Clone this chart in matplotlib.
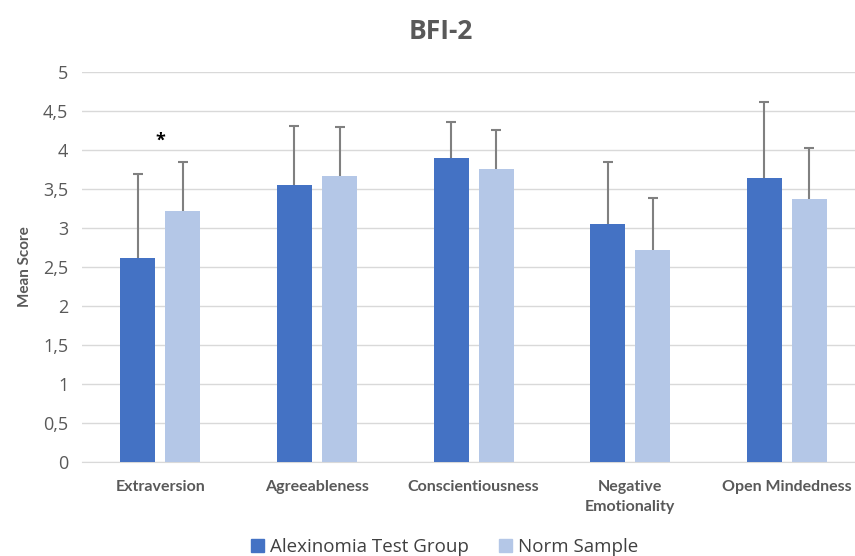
import matplotlib.pyplot as plt
import numpy as np
from matplotlib.patches import Patch
from matplotlib.ticker import FuncFormatter

plt.rcParams['font.family'] = ['Open Sans', 'DejaVu Sans']

categories = ['Extraversion', 'Agreeableness', 'Conscientiousness',
              'Negative\nEmotionality', 'Open Mindedness']
test_group = [2.62, 3.55, 3.90, 3.05, 3.64]
test_sd = [1.07, 0.76, 0.46, 0.80, 0.98]
norm_sample = [3.22, 3.67, 3.76, 2.72, 3.37]
norm_sd = [0.63, 0.62, 0.50, 0.66, 0.65]
series_names = ['Alexinomia Test Group', 'Norm Sample']

dark = '#4472C4'
light = '#B4C7E7'
grey = '#595959'

fig = plt.figure(figsize=(8.55, 5.56), dpi=100)
ax = fig.add_axes([0.096, 0.169, 0.916, 0.7015])

x = np.arange(len(categories))
width = 0.224
offset = 0.144

err_kw = dict(ecolor='#808080', elinewidth=1.5, capsize=3.5, capthick=1.5)
b1 = ax.bar(x - offset, test_group, width, color=dark, edgecolor='none',
            yerr=[np.zeros(len(test_sd)), test_sd], error_kw=err_kw, zorder=3)
b2 = ax.bar(x + offset, norm_sample, width, color=light, edgecolor='none',
            yerr=[np.zeros(len(norm_sd)), norm_sd], error_kw=err_kw, zorder=3)
# only the upper cap is shown
for b in (b1, b2):
    b.errorbar.lines[1][0].set_visible(False)

# significance marker
ax.text(0, 4.12, '*', ha='center', va='center', fontsize=13,
        fontweight='bold', color='black')

ax.set_xlim(-0.5, len(categories) - 0.5)
ax.set_ylim(0, 5)
ax.set_yticks(np.arange(0, 5.01, 0.5))
ax.yaxis.set_major_formatter(FuncFormatter(
    lambda v, p: f'{v:g}'.replace('.', ',')))
ax.grid(axis='y', color='#d9d9d9', linewidth=1, zorder=0)
ax.set_axisbelow(True)
for s in ['top', 'right', 'left']:
    ax.spines[s].set_visible(False)
ax.spines['bottom'].set_color('#d9d9d9')
ax.tick_params(axis='y', length=0, labelsize=13, labelcolor=grey, pad=10)
ax.tick_params(axis='x', length=0, pad=13)

ax.set_xticks(x)
ax.set_xticklabels(categories, fontsize=11.5, fontweight='bold',
                   color=grey, family=['Lato', 'DejaVu Sans'],
                   linespacing=1.55)
ax.set_ylabel('Mean Score', fontsize=11, fontweight='bold', color=grey,
              labelpad=8, family=['Lato', 'DejaVu Sans'])

fig.text(0.515, 0.943, 'BFI-2', ha='center', va='center', fontsize=19,
         fontweight='bold', color=grey)

handles = [Patch(color=dark), Patch(color=light)]
fig.legend(handles, series_names, loc='lower center', ncol=2,
           bbox_to_anchor=(0.52, -0.03), frameon=False, fontsize=13.5,
           handlelength=0.7, handleheight=0.7, handletextpad=0.3,
           columnspacing=1.6, labelcolor='#404040')

fig.savefig('out.png', dpi=100)
